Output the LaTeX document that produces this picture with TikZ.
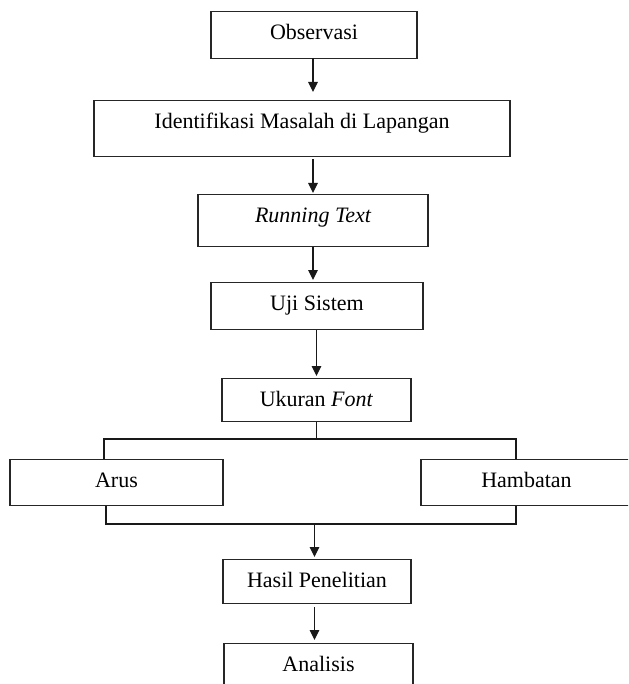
\documentclass[tikz,border=0pt]{standalone}
\usepackage{fontspec}
\setmainfont{Liberation Serif}
\usetikzlibrary{arrows.meta}
\begin{document}
\begin{tikzpicture}[x=1pt,y=-1pt,
  box/.style={draw=black!85, line width=1.1pt, anchor=north, inner ysep=0pt, inner xsep=0pt,
    text height=28pt, font=\fontsize{22}{26}\selectfont},
  conn/.style={draw=black!90, line width=1.2pt},
  arr/.style={conn, -{Triangle[length=10pt,width=9.5pt]}}]
\useasboundingbox (0,0) rectangle (628,684);
\clip (0,0) rectangle (628,684);
\fill[white] (0,0) rectangle (628,684);

\node[box, minimum width=206pt, text depth=19pt] (obs) at (314,11) {Observasi};
\node[box, minimum width=416pt, text depth=28pt] (idf) at (302,100) {Identifikasi Masalah di Lapangan};
\node[box, minimum width=230pt, text depth=24pt] (run) at (313,194) {\itshape Running Text};
\node[box, minimum width=212pt, text depth=19pt] (uji) at (317,282) {Uji Sistem};
\node[box, minimum width=189pt, text depth=15pt] (uku) at (316.5,378) {Ukuran \textit{Font}};
\node[box, minimum width=213pt, text depth=18pt] (arus) at (116.5,459) {Arus};
\node[box, minimum width=211pt, text depth=18pt] (hamb) at (526.5,459) {Hambatan};
\node[box, minimum width=188pt, text depth=16pt] (hasil) at (317,559) {Hasil Penelitian};
\node[box, minimum width=189pt, text depth=15pt] (anal) at (318.5,643) {Analisis};

\coordinate (bl) at (104,439);
\coordinate (br) at (516,439);
\coordinate (ml) at (106,524);
\coordinate (mr) at (516,524);
\coordinate (mm) at (314.5,524);
\coordinate (oa) at (313,58);

\draw[arr, shorten >=8pt] (oa) -- (oa |- idf.north);
\draw[arr, shorten <=2pt, shorten >=1pt] (idf.south -| run.south) -- (run.north);
\draw[arr, shorten >=2pt] (run.south) -- (run.south |- uji.north);
\draw[arr, shorten >=2pt] (uji.south -| uku.north) -- (uku.north);
\draw[conn] (uku.south) -- (uku.south |- bl);
\draw[conn] (arus.north -| bl) -- (bl) -- (br) -- (hamb.north -| br);
\draw[conn] (arus.south -| ml) -- (ml) -- (mr) -- (hamb.south -| mr);
\draw[arr, shorten >=2pt] (mm) -- (mm |- hasil.north);
\draw[arr, shorten <=3pt, shorten >=3pt] (hasil.south -| mm) -- (mm |- anal.north);
\end{tikzpicture}
\end{document}
